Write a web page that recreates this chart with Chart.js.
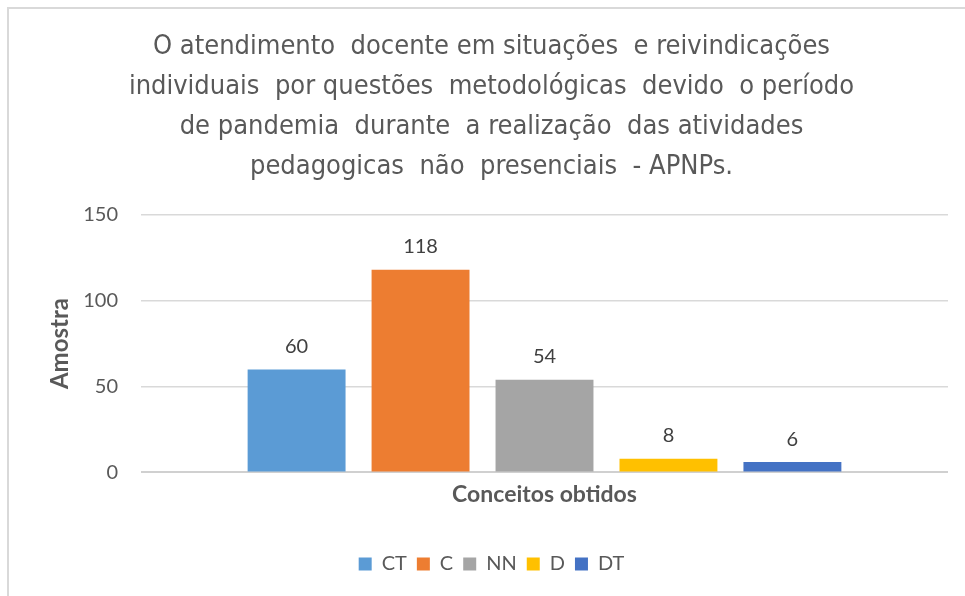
<!DOCTYPE html>
<html>
<head>
<meta charset="utf-8">
<script src="https://cdn.jsdelivr.net/npm/chart.js@4/dist/chart.umd.min.js"></script>
<style>
    html, body { margin: 0; padding: 0; background: #fff; overflow: hidden; }
    #wrap { position: relative; width: 965px; height: 596px; overflow: hidden; }
    #frame {
        position: absolute; left: 7px; top: 7px; width: 980px; height: 600px;
        border-top: 2px solid #d9d9d9; border-left: 2px solid #d9d9d9;
    }
    #box { position: absolute; left: 0; top: 0; width: 983px; height: 596px; }
</style>
</head>
<body>
<div id="wrap">
    <div id="frame"></div>
    <div id="box"><canvas id="chart"></canvas></div>
</div>
<script>
const titleLines = [
    'O atendimento  docente em situações  e reivindicações',
    'individuais  por questões  metodológicas  devido  o período',
    'de pandemia  durante  a realização  das atividades',
    'pedagogicas  não  presenciais  - APNPs.'
];
const seriesNames = ['CT', 'C', 'NN', 'D', 'DT'];
const seriesValues = [60, 118, 54, 8, 6];
const seriesColors = ['#5B9BD5', '#ED7D31', '#A5A5A5', '#FFC000', '#4472C4'];
const yTicks = [0, 50, 100, 150];

const textColor = '#595959';
const bodyFont = 'Lato, "Open Sans", sans-serif';

// valores acima das barras
const valueLabels = {
    id: 'valueLabels',
    afterDatasetsDraw(chart) {
        const ctx = chart.ctx;
        ctx.save();
        ctx.font = '20px ' + bodyFont;
        ctx.fillStyle = '#404040';
        ctx.textAlign = 'center';
        ctx.textBaseline = 'middle';
        chart.data.datasets.forEach((ds, i) => {
            const meta = chart.getDatasetMeta(i);
            meta.data.forEach((bar, j) => {
                ctx.fillText(String(ds.data[j]), bar.x, bar.y - 23);
            });
        });
        ctx.restore();
    }
};

const datasets = seriesNames.map((name, i) => ({
    label: name,
    data: [seriesValues[i]],
    backgroundColor: seriesColors[i],
    categoryPercentage: 0.768,
    barPercentage: 0.79
}));

new Chart(document.getElementById('chart'), {
    type: 'bar',
    data: { labels: [''], datasets: datasets },
    options: {
        responsive: true,
        maintainAspectRatio: false,
        animation: false,
        layout: { padding: { left: 0, right: 0, top: 0, bottom: 12 } },
        plugins: {
            title: {
                display: true,
                text: titleLines,
                color: textColor,
                font: { family: '"Liberation Sans Narrow", "DejaVu Sans Condensed", sans-serif', size: 27, weight: 'normal', lineHeight: 1.48 },
                padding: { top: 27, bottom: 28 }
            },
            legend: {
                position: 'bottom',
                labels: {
                    color: textColor,
                    font: { family: bodyFont, size: 20 },
                    boxWidth: 13,
                    boxHeight: 13,
                    padding: 10
                }
            },
            tooltip: { enabled: false }
        },
        scales: {
            x: {
                grid: { display: false },
                border: { display: false },
                ticks: { display: false },
                title: {
                    display: true,
                    text: 'Conceitos obtidos',
                    color: textColor,
                    font: { family: bodyFont, size: 23, weight: 'bold', lineHeight: 1.2 },
                    padding: { top: 0, bottom: 36 }
                }
            },
            y: {
                min: 0,
                max: 150,
                afterBuildTicks: s => { s.ticks = yTicks.map(v => ({ value: v })); },
                afterFit: s => { s.width = 141; },
                grid: {
                    drawTicks: false,
                    color: ctx => ctx.tick && ctx.tick.value === 0 ? '#d0d0d0' : '#d9d9d9',
                    lineWidth: ctx => ctx.tick && ctx.tick.value === 0 ? 2 : 1.5
                },
                border: { display: false },
                ticks: {
                    color: textColor,
                    font: { family: bodyFont, size: 20 },
                    padding: 23
                },
                title: {
                    display: true,
                    text: 'Amostra',
                    color: textColor,
                    font: { family: bodyFont, size: 24, weight: 'bold', lineHeight: 1.2 },
                    padding: { top: 46, bottom: 0 }
                }
            },
            y2: {
                position: 'right',
                display: true,
                grid: { display: false },
                border: { display: false },
                ticks: { display: false },
                afterFit: s => { s.width = 35; }
            }
        }
    },
    plugins: [valueLabels]
});
</script>
</body>
</html>
